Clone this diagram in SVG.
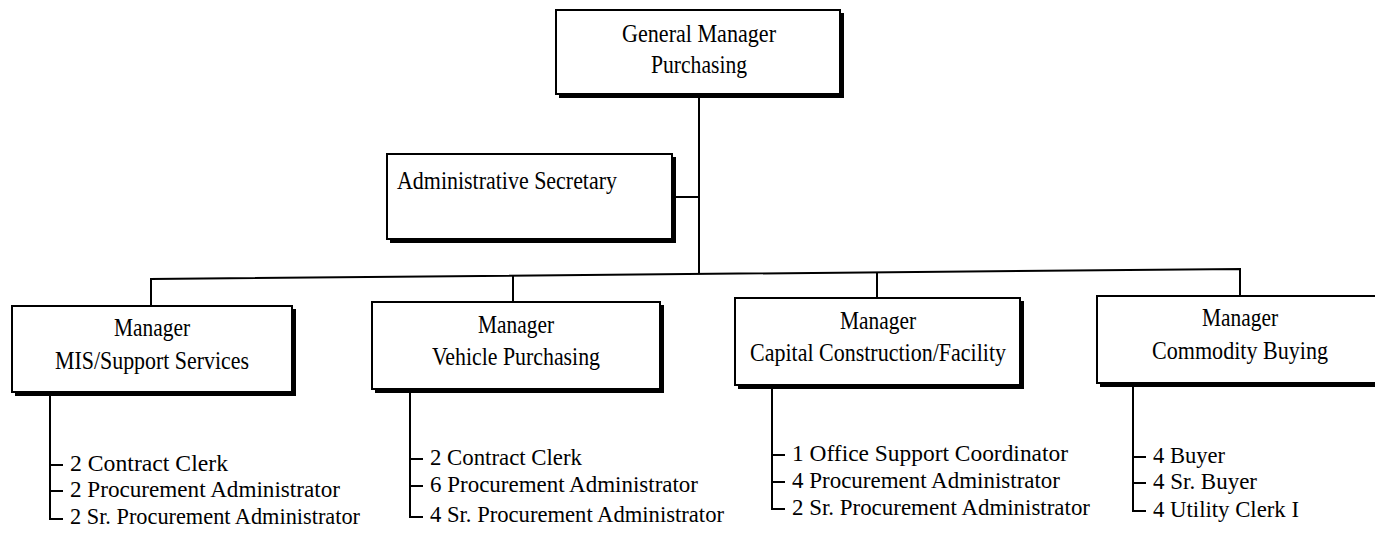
<svg xmlns="http://www.w3.org/2000/svg" width="1375" height="536" viewBox="0 0 1375 536">
<style>
.box{fill:#fff;stroke:#000;stroke-width:2}
.sh{fill:none;stroke:#000;stroke-width:4}
.ln{fill:none;stroke:#000;stroke-width:2}
text{font-family:"Liberation Serif","Times New Roman",serif;font-size:25px;fill:#000}
.l{font-size:24px}
.c{text-anchor:middle}
</style>
<rect width="1375" height="536" fill="#fff"/>
<g id="connectors">
<line class="ln" x1="699" y1="96" x2="699" y2="273"/>
<line class="ln" x1="674" y1="197" x2="699" y2="197"/>
<polyline class="ln" points="151,306 151,279 1240,269 1240,296"/>
<line class="ln" x1="513" y1="276" x2="513" y2="302"/>
<line class="ln" x1="877" y1="272" x2="877" y2="298"/>
<polyline class="ln" points="50,395 50,519 63,519"/>
<line class="ln" x1="50" y1="465" x2="63" y2="465"/>
<line class="ln" x1="50" y1="491" x2="63" y2="491"/>
<polyline class="ln" points="410,392 410,517 423,517"/>
<line class="ln" x1="410" y1="459" x2="423" y2="459"/>
<line class="ln" x1="410" y1="486" x2="423" y2="486"/>
<polyline class="ln" points="772,388 772,509 785,509"/>
<line class="ln" x1="772" y1="455" x2="785" y2="455"/>
<line class="ln" x1="772" y1="482" x2="785" y2="482"/>
<polyline class="ln" points="1133,386 1133,511 1146,511"/>
<line class="ln" x1="1133" y1="457" x2="1146" y2="457"/>
<line class="ln" x1="1133" y1="483" x2="1146" y2="483"/>
</g>
<g id="gm">
<rect class="box" x="556" y="10" width="284" height="84"/>
<polyline class="sh" points="559,96 842,96 842,13"/>
<text class="c" x="699" y="42" textLength="154" lengthAdjust="spacingAndGlyphs">General Manager</text>
<text class="c" x="699" y="73" textLength="96" lengthAdjust="spacingAndGlyphs">Purchasing</text>
</g>
<g id="admin">
<rect class="box" x="387" y="154" width="285" height="85"/>
<polyline class="sh" points="390,241 674,241 674,157"/>
<text x="397" y="189" textLength="220" lengthAdjust="spacingAndGlyphs">Administrative Secretary</text>
</g>
<g id="mis">
<rect class="box" x="12" y="306" width="280" height="86"/>
<polyline class="sh" points="15,394 294,394 294,309"/>
<text class="c" x="152" y="336" textLength="76" lengthAdjust="spacingAndGlyphs">Manager</text>
<text class="c" x="152" y="369" textLength="194" lengthAdjust="spacingAndGlyphs">MIS/Support Services</text>
<text class="l" x="70" y="471" textLength="158" lengthAdjust="spacingAndGlyphs">2 Contract Clerk</text>
<text class="l" x="70" y="497" textLength="270" lengthAdjust="spacingAndGlyphs">2 Procurement Administrator</text>
<text class="l" x="70" y="524" textLength="290" lengthAdjust="spacingAndGlyphs">2 Sr. Procurement Administrator</text>
</g>
<g id="vehicle">
<rect class="box" x="372" y="302" width="288" height="87"/>
<polyline class="sh" points="375,391 662,391 662,305"/>
<text class="c" x="516" y="333" textLength="76" lengthAdjust="spacingAndGlyphs">Manager</text>
<text class="c" x="516" y="365" textLength="168" lengthAdjust="spacingAndGlyphs">Vehicle Purchasing</text>
<text class="l" x="430" y="465" textLength="152" lengthAdjust="spacingAndGlyphs">2 Contract Clerk</text>
<text class="l" x="430" y="492" textLength="268" lengthAdjust="spacingAndGlyphs">6 Procurement Administrator</text>
<text class="l" x="430" y="522" textLength="294" lengthAdjust="spacingAndGlyphs">4 Sr. Procurement Administrator</text>
</g>
<g id="capital">
<rect class="box" x="735" y="298" width="285" height="87"/>
<polyline class="sh" points="738,387 1022,387 1022,301"/>
<text class="c" x="878" y="329" textLength="76" lengthAdjust="spacingAndGlyphs">Manager</text>
<text class="c" x="878" y="361" textLength="256" lengthAdjust="spacingAndGlyphs">Capital Construction/Facility</text>
<text class="l" x="792" y="461" textLength="276" lengthAdjust="spacingAndGlyphs">1 Office Support Coordinator</text>
<text class="l" x="792" y="488" textLength="268" lengthAdjust="spacingAndGlyphs">4 Procurement Administrator</text>
<text class="l" x="792" y="515" textLength="298" lengthAdjust="spacingAndGlyphs">2 Sr. Procurement Administrator</text>
</g>
<g id="commodity">
<rect class="box" x="1097" y="296" width="290" height="87"/>
<polyline class="sh" points="1100,385 1390,385"/>
<text class="c" x="1240" y="326" textLength="76" lengthAdjust="spacingAndGlyphs">Manager</text>
<text class="c" x="1240" y="359" textLength="176" lengthAdjust="spacingAndGlyphs">Commodity Buying</text>
<text class="l" x="1153" y="463" textLength="72" lengthAdjust="spacingAndGlyphs">4 Buyer</text>
<text class="l" x="1153" y="489" textLength="104" lengthAdjust="spacingAndGlyphs">4 Sr. Buyer</text>
<text class="l" x="1153" y="517" textLength="146" lengthAdjust="spacingAndGlyphs">4 Utility Clerk I</text>
</g>
</svg>
